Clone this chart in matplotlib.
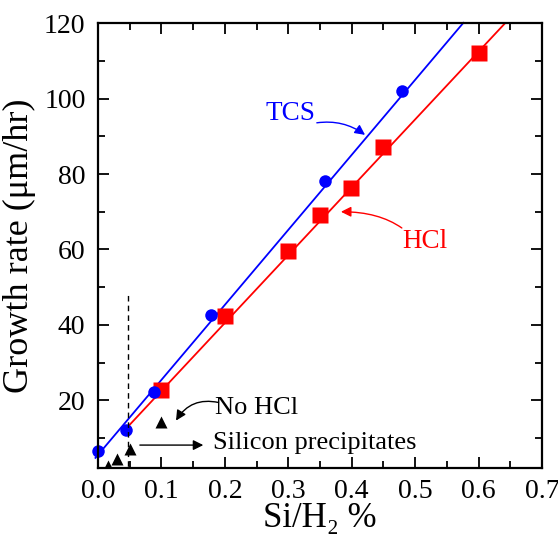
import matplotlib
matplotlib.use("Agg")
import numpy as np
from matplotlib import pyplot as plt

# data
tcs_x = [0.0, 0.044, 0.089, 0.178, 0.358, 0.48]
tcs_y = [6.6, 12.1, 22.3, 42.6, 78.2, 102.0]
hcl_x = [0.1, 0.2, 0.3, 0.35, 0.399, 0.45, 0.6]
hcl_y = [22.7, 42.3, 59.5, 69.2, 76.2, 87.3, 112.1]
nohcl_x = [0.016, 0.03, 0.05, 0.1]
nohcl_y = [2.5, 4.3, 7.1, 14.2]

# fitted lines (intercept, slope) and their x extent
tcs_fit = (5.5, 199.0)
tcs_range = [-0.004, 0.576]
hcl_fit = (4.5, 180.0)
hcl_range = [0.046, 0.642]

precip_x = 0.047
precip_top = 48.4


def arrow(ax, start, end, color, conn='arc3,rad=0'):
    ax.annotate('', xy=end, xytext=start,
                arrowprops=dict(arrowstyle='-|>', color=color, lw=1,
                                shrinkA=0, shrinkB=0, mutation_scale=15,
                                connectionstyle=conn))


def main():
    plt.rcParams['font.family'] = ['Liberation Serif', 'DejaVu Serif']
    fig = plt.figure(figsize=(5.58, 5.36), dpi=100)
    ax = fig.add_axes([98 / 558, 1 - 467.7 / 536, 444 / 558, 444.4 / 536])

    xs = np.array(tcs_range)
    ax.plot(xs, tcs_fit[0] + tcs_fit[1] * xs, color='blue', lw=1.3,
            clip_on=False)
    xs = np.array(hcl_range)
    ax.plot(xs, hcl_fit[0] + hcl_fit[1] * xs, color='red', lw=1.3)

    ax.plot(hcl_x, hcl_y, 's', color='red', ms=11, mec='none')
    ax.plot(tcs_x, tcs_y, 'o', color='blue', ms=9, mec='none', clip_on=False)
    ax.plot(nohcl_x, nohcl_y, '^', color='black', ms=9, mec='none')

    ax.plot([precip_x, precip_x], [0, precip_top], color='black', lw=1,
            ls=(0, (4, 3)))

    ax.text(0.303, 96.2, 'TCS', color='blue', fontsize=19.5,
            ha='center', va='center')
    arrow(ax, (0.345, 93.6), (0.421, 90.4), 'blue', 'arc3,rad=-0.2')

    ax.text(0.516, 62.0, 'HCl', color='red', fontsize=19.5,
            ha='center', va='center')
    arrow(ax, (0.479, 65.7), (0.383, 70.0), 'red',
          'angle3,angleA=145,angleB=0')

    ax.text(0.25, 17.9, 'No HCl', color='black', fontsize=19,
            ha='center', va='center')
    arrow(ax, (0.19, 19.4), (0.123, 14.6), 'black', 'arc3,rad=0.35')

    ax.text(0.182, 8.7, 'Silicon precipitates', color='black', fontsize=19,
            ha='left', va='center')
    arrow(ax, (0.066, 8.1), (0.166, 8.1), 'black')

    ax.set_xlim(0, 0.7)
    ax.set_ylim(2.1, 120)
    ax.set_xticks(np.arange(0, 0.71, 0.1))
    ax.set_xticks(np.arange(0.05, 0.7, 0.1), minor=True)
    ax.set_yticks(np.arange(20, 121, 20))
    ax.set_yticks(np.arange(10, 120, 20), minor=True)
    ax.xaxis.set_major_formatter(matplotlib.ticker.FormatStrFormatter('%.1f'))
    ax.tick_params(which='both', direction='in', top=True, right=True,
                   width=1.3, labelsize=20)
    ax.tick_params(which='major', length=8)
    ax.tick_params(which='minor', length=5)
    ax.tick_params(axis='x', pad=8)
    ax.tick_params(axis='y', pad=9)
    for side in ['left', 'bottom', 'top', 'right']:
        ax.spines[side].set_linewidth(1.6)

    ax.set_xlabel('Si/H₂ %', fontsize=25, labelpad=-1)
    ax.set_ylabel('Growth rate (μm/hr)', fontsize=26, labelpad=6)

    fig.savefig('out.png', dpi=100)


if __name__ == '__main__':
    main()
